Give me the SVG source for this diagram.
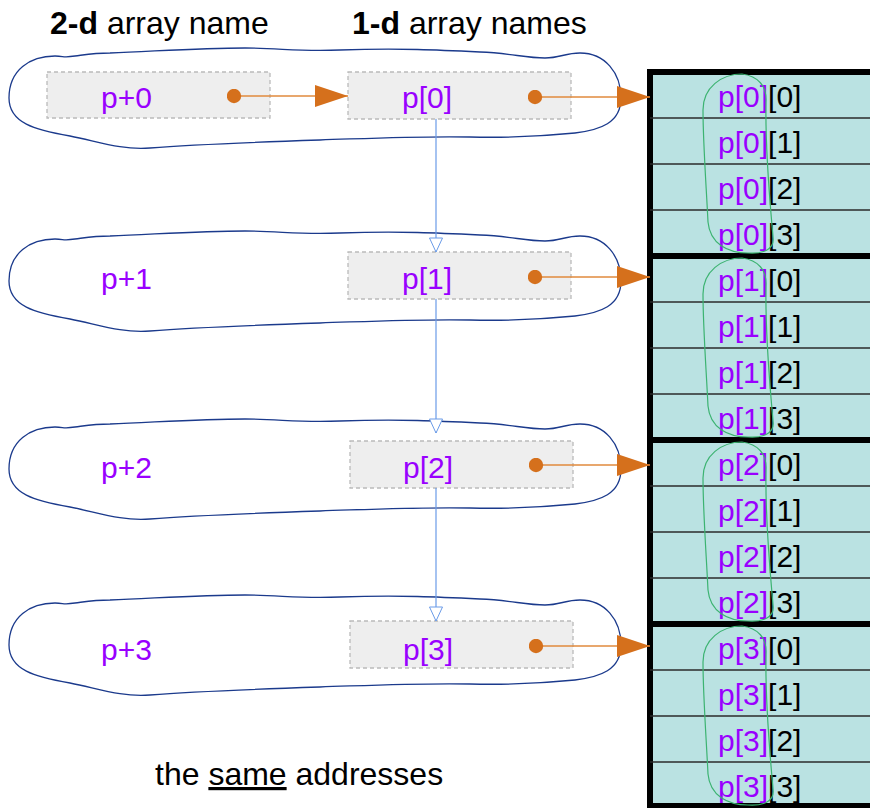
<svg xmlns="http://www.w3.org/2000/svg" width="870" height="808" viewBox="0 0 870 808">
<style>
  text { font-family: "Liberation Sans", Arial, sans-serif; }
  .hdr { font-size: 32px; fill: #000; }
  .lbl { font-size: 30px; fill: #9900ff; }
  .cell { font-size: 30px; fill: #000; }
  .pp { fill: #9900ff; }
  .box { fill: #eeeeee; stroke: #bbbbbb; stroke-width: 1.3; stroke-dasharray: 4 3; }
  .loop { fill: none; stroke: #1b3a8c; stroke-width: 1.3; }
  .gloop { fill: none; stroke: #3cb371; stroke-width: 1.2; }
  .oarrow { stroke: #e08a3c; stroke-width: 1.5; fill: none; marker-start: url(#dot); marker-end: url(#otri); }
  .barrow { stroke: #6a9be8; stroke-width: 1.2; fill: none; marker-end: url(#btri); }
  .thin { stroke: #2a2a2a; stroke-width: 1.3; }
  .thick { stroke: #000; stroke-width: 6; }
</style>
<defs>
  <marker id="otri" viewBox="0 0 33 22" refX="33" refY="11" markerWidth="33" markerHeight="22" markerUnits="userSpaceOnUse" orient="auto">
    <path d="M0,0 L33,11 L0,22 Z" fill="#d5701c"/>
  </marker>
  <marker id="dot" viewBox="0 0 15 15" refX="7.5" refY="7.5" markerWidth="15" markerHeight="15" markerUnits="userSpaceOnUse">
    <circle cx="7.5" cy="7.5" r="7.2" fill="#d5701c"/>
  </marker>
  <marker id="btri" viewBox="-1 -1 16 16" refX="14" refY="7" markerWidth="16" markerHeight="16" markerUnits="userSpaceOnUse" orient="auto">
    <path d="M0,0.5 L14,7 L0,13.5 Z" fill="#ffffff" stroke="#6a9be8" stroke-width="1"/>
  </marker>
  <path id="blob" d="M9,0 C9,-28 30,-42 55,-42 C65,-42 62,-40 75,-42 C90,-44 95,-45 110,-45 C160,-47 200,-50 245,-50 C280,-50 300,-46 340,-48 C400,-50 440,-48 480,-46 C510,-45 525,-40 545,-40 C560,-40 565,-45 580,-45 C605,-45 621,-25 621,0 C621,25 600,32 575,35 C545,38 510,40 470,39 C420,38 380,40 320,42 C260,44 200,46 150,50 C120,52 100,44 70,38 C35,32 9,25 9,0 Z"/>
  <path id="gblob" d="M742,74 C758,76 767,86 766,102 C765,152 770,202 773,237 C775,250 762,254 748,253 C728,253 710,244 708,222 C706,182 703,142 703,110 C703,87 722,74 742,74 Z"/>
</defs>

<g id="headers">
  <text class="hdr" x="50" y="34"><tspan font-weight="bold">2-d</tspan> array name</text>
  <text class="hdr" x="352" y="34"><tspan font-weight="bold">1-d</tspan> array names</text>
</g>

<g id="row0">
  <use href="#blob" class="loop" transform="translate(0,98)"/>
  <g id="p0box"><rect class="box" x="47" y="72" width="223" height="46"/><text class="lbl" x="101" y="108">p+0</text></g>
  <g id="p0elem"><rect class="box" x="348" y="72" width="223" height="47"/><text class="lbl" x="402" y="108">p[0]</text></g>
</g>
<g id="row1">
  <use href="#blob" class="loop" transform="translate(0,281)"/>
  <text class="lbl" x="101" y="289">p+1</text>
  <g id="p1elem"><rect class="box" x="348" y="252" width="223" height="47"/><text class="lbl" x="402" y="289">p[1]</text></g>
</g>
<g id="row2">
  <use href="#blob" class="loop" transform="translate(0,469)"/>
  <text class="lbl" x="101" y="478">p+2</text>
  <g id="p2elem"><rect class="box" x="350" y="441" width="223" height="47"/><text class="lbl" x="403" y="478">p[2]</text></g>
</g>
<g id="row3">
  <use href="#blob" class="loop" transform="translate(0,645)"/>
  <text class="lbl" x="101" y="660">p+3</text>
  <g id="p3elem"><rect class="box" x="350" y="621" width="223" height="47"/><text class="lbl" x="403" y="660">p[3]</text></g>
</g>

<g id="table">
  <rect x="650" y="72" width="240" height="734" fill="#bae2e2" stroke="#000" stroke-width="6"/>
  <line class="thin" x1="650" y1="118" x2="870" y2="118"/>
  <line class="thin" x1="650" y1="164" x2="870" y2="164"/>
  <line class="thin" x1="650" y1="210" x2="870" y2="210"/>
  <line class="thin" x1="650" y1="302" x2="870" y2="302"/>
  <line class="thin" x1="650" y1="348" x2="870" y2="348"/>
  <line class="thin" x1="650" y1="394" x2="870" y2="394"/>
  <line class="thin" x1="650" y1="486" x2="870" y2="486"/>
  <line class="thin" x1="650" y1="532" x2="870" y2="532"/>
  <line class="thin" x1="650" y1="578" x2="870" y2="578"/>
  <line class="thin" x1="650" y1="670" x2="870" y2="670"/>
  <line class="thin" x1="650" y1="716" x2="870" y2="716"/>
  <line class="thin" x1="650" y1="762" x2="870" y2="762"/>
  <line class="thick" x1="647" y1="256" x2="870" y2="256"/>
  <line class="thick" x1="647" y1="440" x2="870" y2="440"/>
  <line class="thick" x1="647" y1="624" x2="870" y2="624"/>
  <g id="cells">
    <text class="cell" x="718" y="107"><tspan class="pp">p[0]</tspan>[0]</text>
    <text class="cell" x="718" y="153"><tspan class="pp">p[0]</tspan>[1]</text>
    <text class="cell" x="718" y="199"><tspan class="pp">p[0]</tspan>[2]</text>
    <text class="cell" x="718" y="245"><tspan class="pp">p[0]</tspan>[3]</text>
    <text class="cell" x="718" y="291"><tspan class="pp">p[1]</tspan>[0]</text>
    <text class="cell" x="718" y="337"><tspan class="pp">p[1]</tspan>[1]</text>
    <text class="cell" x="718" y="383"><tspan class="pp">p[1]</tspan>[2]</text>
    <text class="cell" x="718" y="429"><tspan class="pp">p[1]</tspan>[3]</text>
    <text class="cell" x="718" y="475"><tspan class="pp">p[2]</tspan>[0]</text>
    <text class="cell" x="718" y="521"><tspan class="pp">p[2]</tspan>[1]</text>
    <text class="cell" x="718" y="567"><tspan class="pp">p[2]</tspan>[2]</text>
    <text class="cell" x="718" y="613"><tspan class="pp">p[2]</tspan>[3]</text>
    <text class="cell" x="718" y="659"><tspan class="pp">p[3]</tspan>[0]</text>
    <text class="cell" x="718" y="705"><tspan class="pp">p[3]</tspan>[1]</text>
    <text class="cell" x="718" y="751"><tspan class="pp">p[3]</tspan>[2]</text>
    <text class="cell" x="718" y="797"><tspan class="pp">p[3]</tspan>[3]</text>
  </g>
  <g id="groupLoops">
    <use href="#gblob" class="gloop"/>
    <use href="#gblob" class="gloop" transform="translate(0,184)"/>
    <use href="#gblob" class="gloop" transform="translate(0,368)"/>
    <use href="#gblob" class="gloop" transform="translate(0,552)"/>
  </g>
</g>

<g id="connectors">
  <line class="oarrow" x1="234" y1="96" x2="348" y2="96"/>
  <line class="oarrow" x1="535" y1="97" x2="650" y2="97"/>
  <line class="oarrow" x1="535" y1="277" x2="650" y2="277"/>
  <line class="oarrow" x1="536" y1="465" x2="650" y2="465"/>
  <line class="oarrow" x1="536" y1="646" x2="650" y2="646"/>
  <line class="barrow" x1="436" y1="119" x2="436" y2="252"/>
  <line class="barrow" x1="436" y1="299" x2="436" y2="433"/>
  <line class="barrow" x1="436" y1="488" x2="436" y2="621"/>
</g>

<g id="caption">
  <text class="hdr" x="155" y="785">the <tspan text-decoration="underline">same</tspan> addresses</text>
</g>
</svg>
